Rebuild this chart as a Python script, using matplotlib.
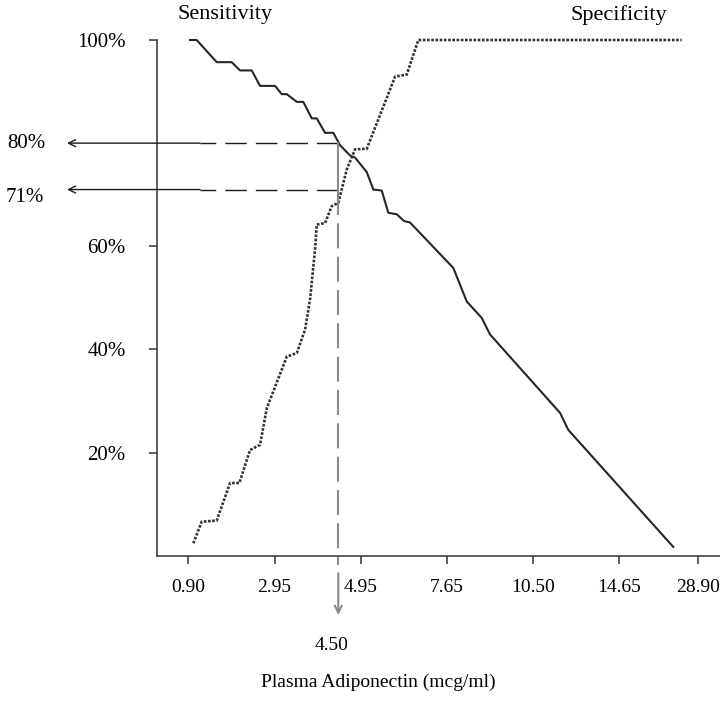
import matplotlib.pyplot as plt

plt.rcParams['font.family'] = ['Liberation Serif', 'DejaVu Serif']

# x axis: rank position of the cut-off values (one unit per labelled tick)
tick_pos = [0, 1, 2, 3, 4, 5, 5.91]
tick_labels = ['0.90', '2.95', '4.95', '7.65', '10.50', '14.65', '28.90']

# Sensitivity curve (solid), % vs rank position
sens_x = [0.020, 0.097, 0.329, 0.503, 0.600, 0.735, 0.832, 1.006, 1.084, 1.142,
          1.258, 1.334, 1.432, 1.490, 1.586, 1.682, 1.760, 1.876, 1.934, 2.070,
          2.146, 2.244, 2.320, 2.418, 2.502, 2.572, 3.074, 3.230, 3.404, 3.500,
          4.312, 4.408, 5.626]
sens_y = [100, 100, 95.7, 95.7, 94.1, 94.1, 91.1, 91.1, 89.5, 89.5,
          88.0, 88.0, 84.8, 84.8, 82.0, 82.0, 79.6, 77.6, 77.2, 74.4,
          71.0, 70.8, 66.5, 66.2, 64.9, 64.6, 55.8, 49.3, 46.1, 42.9,
          27.7, 24.4, 1.7]

# Specificity curve (dotted)
spec_x = [0.058, 0.155, 0.329, 0.484, 0.592, 0.716, 0.832, 0.910, 1.142, 1.258,
          1.354, 1.412, 1.470, 1.490, 1.586, 1.664, 1.740, 1.838, 1.934, 2.070,
          2.340, 2.398, 2.534, 2.668, 5.724]
spec_y = [2.4, 6.6, 6.8, 14.1, 14.1, 20.5, 21.5, 28.6, 38.6, 39.3,
          43.8, 49.7, 59.4, 64.2, 64.5, 67.8, 68.4, 74.9, 78.8, 78.9,
          90.4, 92.9, 93.3, 100, 100]

# chosen cut-off
cut_label = '4.50'
cut_x = 1.74
cut_sens = 80
cut_spec = 71

W, H = 720, 714
fig = plt.figure(figsize=(7.2, 7.14), dpi=100)
ax = fig.add_axes([157.3 / W, 1 - 555.7 / H, 1 - 157.3 / W, (555.7 - 40) / H])

ax.plot(sens_x, sens_y, color='#262626', lw=1.5, solid_joinstyle='round',
        clip_on=False)
ax.plot(spec_x, spec_y, color='#333333', lw=1.9, dashes=(1.0, 0.6),
        clip_on=False)

ax.set_xlim(-0.36, 6.168)
ax.set_ylim(0, 100)

# horizontal guides at sensitivity / specificity of the cut-off
left_end = 0.136
for yv in (cut_sens, cut_spec):
    ax.plot([cut_x, left_end], [yv, yv], color='#1a1a1a', lw=1.0,
            dashes=(15.5, 6.5), clip_on=False)
    ax.annotate('', xy=(-1.407, yv), xytext=(left_end, yv),
                xycoords='data', annotation_clip=False,
                arrowprops=dict(arrowstyle='->,head_length=0.5,head_width=0.25',
                                lw=1.0, color='#1a1a1a', shrinkA=0, shrinkB=0))

# vertical cut-off line
ax.plot([cut_x, cut_x], [cut_sens, cut_spec], color='#8a8a8a', lw=1.5)
ax.plot([cut_x, cut_x], [cut_spec, -1.8], color='#8a8a8a', lw=1.5,
        dashes=(12, 4), clip_on=False)
ax.annotate('', xy=(cut_x, -11.5), xytext=(cut_x, -3.4),
            xycoords='data', annotation_clip=False,
            arrowprops=dict(arrowstyle='->,head_length=0.5,head_width=0.25',
                            lw=1.5, color='#8a8a8a', shrinkA=0, shrinkB=0))

# axes styling
for s in ('top', 'right'):
    ax.spines[s].set_visible(False)
for s in ('left', 'bottom'):
    ax.spines[s].set_color('#333333')
    ax.spines[s].set_linewidth(1.1)

ax.set_xticks(tick_pos)
ax.set_xticklabels(tick_labels, fontsize=14)
ax.set_yticks([20, 40, 60, 100])
ax.set_yticklabels(['20%', '40%', '60%', '100%'], fontsize=15)
ax.tick_params(axis='both', direction='out', length=5.8, width=1.1, color='#333333')
ax.tick_params(axis='x', pad=11)
ax.tick_params(axis='y', pad=17)


def px(x, y):
    return x / W, 1 - y / H


fig.text(*px(26.7, 143), f'{cut_sens}%', fontsize=15, ha='center', va='center')
fig.text(*px(25, 197), f'{cut_spec}%', fontsize=15, ha='center', va='center')
fig.text(*px(225, 15), 'Sensitivity', fontsize=16, ha='center', va='center')
fig.text(*px(619, 15), 'Specificity', fontsize=16, ha='center', va='center')
fig.text(*px(332, 646), cut_label, fontsize=14, ha='center', va='center')
fig.text(*px(378, 682), 'Plasma Adiponectin (mcg/ml)', fontsize=14,
         ha='center', va='center')

fig.savefig('out.png', dpi=100, facecolor='white')
